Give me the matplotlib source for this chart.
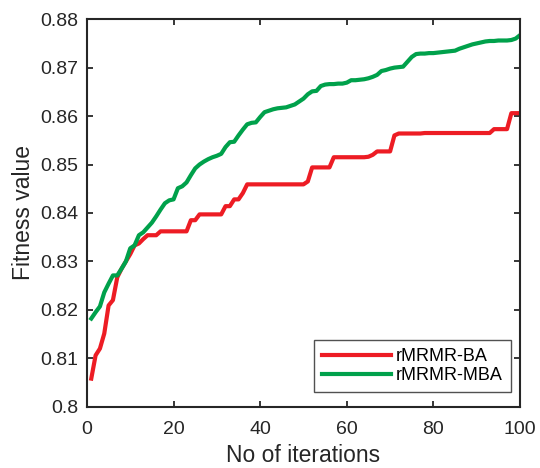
import numpy as np
import matplotlib.pyplot as plt

plt.rcParams['font.family'] = ['Liberation Sans', 'DejaVu Sans']

iterations = np.arange(1, 101)

# rMRMR-BA fitness per iteration
fit_ba = [0.8058, 0.8106, 0.8120, 0.8151, 0.8209, 0.8220, 0.8267, 0.8285, 0.8300, 0.8315,
          0.8333, 0.8337, 0.8346, 0.8354, 0.8354, 0.8354, 0.8362, 0.8362, 0.8362, 0.8362,
          0.8362, 0.8362, 0.8362, 0.8385, 0.8385, 0.8397, 0.8397, 0.8397, 0.8397, 0.8397,
          0.8397, 0.8414, 0.8414, 0.8428, 0.8428, 0.8441, 0.8459, 0.8459, 0.8459, 0.8459,
          0.8459, 0.8459, 0.8459, 0.8459, 0.8459, 0.8459, 0.8459, 0.8459, 0.8459, 0.8459,
          0.8465, 0.8494, 0.8494, 0.8494, 0.8494, 0.8494, 0.8515, 0.8515, 0.8515, 0.8515,
          0.8515, 0.8515, 0.8515, 0.8515, 0.8516, 0.8520, 0.8527, 0.8527, 0.8527, 0.8527,
          0.8560, 0.8564, 0.8564, 0.8564, 0.8564, 0.8564, 0.8564, 0.8565, 0.8565, 0.8565,
          0.8565, 0.8565, 0.8565, 0.8565, 0.8565, 0.8565, 0.8565, 0.8565, 0.8565, 0.8565,
          0.8565, 0.8565, 0.8565, 0.8573, 0.8573, 0.8573, 0.8573, 0.8606, 0.8606, 0.8606]

# rMRMR-MBA fitness per iteration
fit_mba = [0.8182, 0.8195, 0.8207, 0.8236, 0.8254, 0.8271, 0.8271, 0.8285, 0.8300, 0.8327,
           0.8333, 0.8354, 0.8360, 0.8370, 0.8380, 0.8393, 0.8407, 0.8420, 0.8426, 0.8428,
           0.8451, 0.8455, 0.8463, 0.8478, 0.8492, 0.8500, 0.8506, 0.8511, 0.8515, 0.8518,
           0.8522, 0.8536, 0.8546, 0.8547, 0.8560, 0.8572, 0.8583, 0.8586, 0.8587, 0.8598,
           0.8608, 0.8611, 0.8614, 0.8616, 0.8617, 0.8618, 0.8621, 0.8624, 0.8630, 0.8636,
           0.8645, 0.8651, 0.8652, 0.8662, 0.8665, 0.8666, 0.8666, 0.8667, 0.8667, 0.8669,
           0.8674, 0.8674, 0.8675, 0.8676, 0.8678, 0.8681, 0.8685, 0.8693, 0.8695, 0.8698,
           0.8700, 0.8701, 0.8702, 0.8712, 0.8722, 0.8728, 0.8729, 0.8729, 0.8730, 0.8730,
           0.8731, 0.8732, 0.8733, 0.8734, 0.8735, 0.8739, 0.8742, 0.8745, 0.8748, 0.8750,
           0.8752, 0.8754, 0.8755, 0.8755, 0.8756, 0.8756, 0.8756, 0.8757, 0.8760, 0.8767]

fig = plt.figure(figsize=(5.4, 4.68), dpi=100)
ax = fig.add_axes([0.161, 0.131, 0.802, 0.828])

ax.plot(iterations, fit_ba, color='#ed1c24', lw=3, label='rMRMR-BA')
ax.plot(iterations, fit_mba, color='#00a14b', lw=3, label='rMRMR-MBA')

ax.set_xlim(0, 100)
ax.set_ylim(0.8, 0.88)
ax.set_xticks([0, 20, 40, 60, 80, 100])
ax.set_yticks(np.arange(0.80, 0.881, 0.01))
ax.set_yticklabels(['0.8', '0.81', '0.82', '0.83', '0.84', '0.85', '0.86', '0.87', '0.88'])
ax.tick_params(direction='in', length=4, width=1.3, labelsize=14, colors='#262626',
               top=True, right=True)
ax.tick_params(axis='x', pad=10)
ax.tick_params(axis='y', pad=6)
for s in ax.spines.values():
    s.set_linewidth(1.5)
    s.set_color('#262626')

ax.set_xlabel('No of iterations', fontsize=16.5, color='#262626', labelpad=4.5)
ax.set_ylabel('Fitness value', fontsize=16.5, color='#262626', labelpad=4)

leg = ax.legend(loc='lower right', bbox_to_anchor=(0.979, 0.038), fontsize=13,
                frameon=True, fancybox=False, handlelength=3.8, borderpad=0.45,
                labelspacing=0.1, handletextpad=0.3, borderaxespad=0)
leg.get_frame().set_edgecolor('#262626')
leg.get_frame().set_linewidth(1.0)

fig.savefig('out.png', dpi=100)
